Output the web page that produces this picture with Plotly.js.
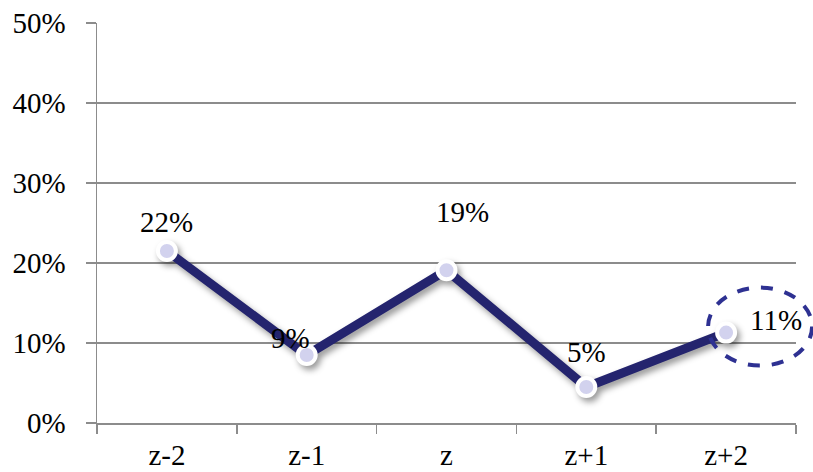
<!DOCTYPE html>
<html>
<head>
<meta charset="utf-8">
<script src="https://cdn.plot.ly/plotly-3.0.1.min.js"></script>
<style>
  html, body { margin: 0; padding: 0; background: #fff; }
  #chart { width: 813px; height: 472px; }
  .scatterlayer .trace { filter: drop-shadow(3px 4px 3px rgba(0,0,0,0.4)); }
</style>
</head>
<body>
<div id="chart"></div>
<script>
// Data
const categories = ["z-2", "z-1", "z", "z+1", "z+2"];
const values = [0.215, 0.085, 0.191, 0.045, 0.113];
const labels = ["22%", "9%", "19%", "5%", "11%"];

// Label placement (pixel offsets from each point)
const labelShiftX = [0, -16, 16, 0, 50];
const labelShiftY = [29, 17, 58, 35, 13];
const highlightIndex = 4;

const font = '"Liberation Serif", "DejaVu Serif", serif';
const fontSize = 29;

const trace = {
  x: categories,
  y: values,
  type: "scatter",
  mode: "lines+markers",
  line: { color: "#24246E", width: 9 },
  marker: { size: 18, color: "#D2D2EE", line: { color: "#FFFFFF", width: 4 } },
  cliponaxis: false,
  hoverinfo: "skip"
};

const annotations = categories.map((c, i) => ({
  x: c, y: values[i], xref: "x", yref: "y",
  text: labels[i], showarrow: false,
  xshift: labelShiftX[i], yshift: labelShiftY[i],
  font: { family: font, size: fontSize, color: "#000" }
}));

const n = categories.length;
const shapes = [{
  type: "circle",
  xref: "x domain", yref: "y",
  xsizemode: "pixel", ysizemode: "pixel",
  xanchor: (highlightIndex + 0.5) / n,
  yanchor: values[highlightIndex],
  x0: -18, x1: 86, y0: -33, y1: 45,
  line: { color: "#2E3192", width: 4, dash: "dash" },
  fillcolor: "rgba(0,0,0,0)",
  layer: "above"
}];

const layout = {
  width: 813, height: 472,
  margin: { l: 97, r: 17, t: 23, b: 49 },
  paper_bgcolor: "#fff", plot_bgcolor: "#fff",
  showlegend: false,
  font: { family: font, size: fontSize, color: "#000" },
  xaxis: {
    type: "category",
    range: [-0.5, n - 0.5],
    tickson: "boundaries",
    ticks: "outside", ticklen: 9, tickwidth: 1.5, tickcolor: "#8C8C8C",
    showline: true, linecolor: "#8C8C8C", linewidth: 1.5,
    showgrid: false, zeroline: false,
    ticklabelstandoff: 6,
    tickfont: { family: font, size: fontSize, color: "#000" },
    fixedrange: true
  },
  yaxis: {
    range: [0, 0.5],
    dtick: 0.1, tick0: 0,
    tickformat: ".0%",
    ticks: "outside", ticklen: 10, tickwidth: 1.5, tickcolor: "#8C8C8C",
    showline: true, linecolor: "#8C8C8C", linewidth: 1.5,
    showgrid: true, gridcolor: "#8C8C8C", gridwidth: 1.5,
    zeroline: false,
    ticklabelstandoff: 14,
    tickfont: { family: font, size: fontSize, color: "#000" },
    fixedrange: true
  },
  annotations: annotations,
  shapes: shapes
};

Plotly.newPlot("chart", [trace], layout, { displayModeBar: false, staticPlot: true });
</script>
</body>
</html>
